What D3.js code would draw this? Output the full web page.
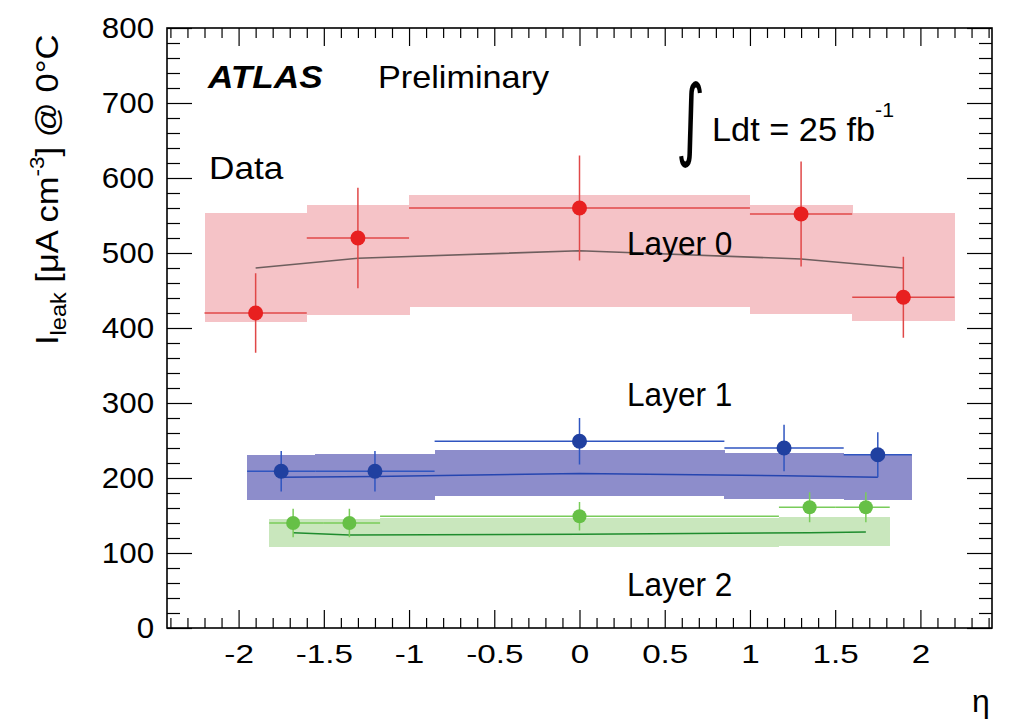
<!DOCTYPE html>
<html>
<head>
<meta charset="UTF-8">
<title>Leakage current vs eta</title>
<script src="https://d3js.org/d3.v7.min.js"></script>
<style>
  body { margin: 0; background: #fff; }
  svg { display: block; font-family: "Liberation Sans", Arial, Helvetica, sans-serif; }
  .axis path { display: none; }
  .axis line { stroke: #000; stroke-width: 1.2; }
</style>
</head>
<body>
<div id="chart"></div>
<script>
// tick values
const xTicks = [-2, -1.5, -1, -0.5, 0, 0.5, 1, 1.5, 2];
const yTicks = [0, 100, 200, 300, 400, 500, 600, 700, 800];

// Layer 0 (red)
const layer0Eta = [-1.9, -1.3, 0, 1.3, 1.9];
const layer0Val = [420, 520, 560, 552, 441];
const layer0Err = [53, 67, 70, 70, 54];
const layer0BinLo = [-2.2, -1.6, -1.0, 1.0, 1.6];
const layer0BinHi = [-1.6, -1.0, 1.0, 1.6, 2.2];
const layer0BandLo = [408, 417, 428, 419, 409];
const layer0BandHi = [553, 564, 577, 564, 553];
const layer0Curve = [480, 493, 503, 492, 480];

// Layer 1 (blue)
const layer1Eta = [-1.75, -1.2, 0, 1.2, 1.75];
const layer1Val = [209, 209, 249, 240, 231];
const layer1Err = [27, 27, 31, 31, 30];
const layer1BinLo = [-1.95, -1.55, -0.85, 0.85, 1.55];
const layer1BinHi = [-1.55, -0.85, 0.85, 1.55, 1.95];
const layer1BandLo = [171, 171, 176, 172, 171];
const layer1BandHi = [231, 232, 237, 233, 231];
const layer1Curve = [201, 202, 206, 203, 201];

// Layer 2 (green)
const layer2Eta = [-1.68, -1.35, 0, 1.35, 1.68];
const layer2Val = [140, 140, 149, 161, 161];
const layer2Err = [19, 19, 19, 20, 20];
const layer2BinLo = [-1.82, -1.5, -1.17, 1.17, 1.5];
const layer2BinHi = [-1.5, -1.17, 1.17, 1.5, 1.82];
const layer2BandLo = [108, 108, 108, 109, 109];
const layer2BandHi = [146, 146, 147, 148, 148];
const layer2Curve = [127, 124, 125, 127, 128];

const width = 1009, height = 724;
const margin = { top: 28, right: 17, bottom: 96, left: 167 };
const iw = width - margin.left - margin.right;
const ih = height - margin.top - margin.bottom;

const svg = d3.select("#chart").append("svg")
  .attr("width", width).attr("height", height);

const x = d3.scaleLinear().domain([-2.42, 2.42]).range([0, iw]);
const y = d3.scaleLinear().domain([0, 800]).range([ih, 0]);

const g = svg.append("g").attr("transform", `translate(${margin.left},${margin.top})`);

const layers = [
  { eta: layer0Eta, val: layer0Val, err: layer0Err, lo: layer0BinLo, hi: layer0BinHi,
    bLo: layer0BandLo, bHi: layer0BandHi, curve: layer0Curve,
    band: "#f5c3c7", point: "#e82020", bar: "#e04848", line: "#6e5e5e", r: 7.5 },
  { eta: layer1Eta, val: layer1Val, err: layer1Err, lo: layer1BinLo, hi: layer1BinHi,
    bLo: layer1BandLo, bHi: layer1BandHi, curve: layer1Curve,
    band: "#8d8dcb", point: "#2040a0", bar: "#2f55c0", line: "#2545b0", r: 7.5 },
  { eta: layer2Eta, val: layer2Val, err: layer2Err, lo: layer2BinLo, hi: layer2BinHi,
    bLo: layer2BandLo, bHi: layer2BandHi, curve: layer2Curve,
    band: "#c9e7bd", point: "#66c046", bar: "#79cc5a", line: "#1e8c2e", r: 7 }
];

// bands (crisp edges so neighbouring bins do not leave seams)
layers.forEach(L => {
  g.append("g").attr("shape-rendering", "crispEdges")
    .selectAll("rect").data(L.lo).join("rect")
    .attr("x", (d, i) => x(d))
    .attr("width", (d, i) => x(L.hi[i]) - x(d) + 0.5)
    .attr("y", (d, i) => y(L.bHi[i]))
    .attr("height", (d, i) => y(L.bLo[i]) - y(L.bHi[i]))
    .attr("fill", L.band);
});

// model curves
layers.forEach(L => {
  const line = d3.line().x((d, i) => x(L.eta[i])).y(d => y(d));
  g.append("path").datum(L.curve)
    .attr("d", line).attr("fill", "none")
    .attr("stroke", L.line).attr("stroke-width", 1.6);
});

// error bars and points
layers.forEach(L => {
  const eg = g.append("g");
  eg.selectAll(".h").data(L.val).join("line")
    .attr("x1", (d, i) => x(L.lo[i])).attr("x2", (d, i) => x(L.hi[i]))
    .attr("y1", d => y(d)).attr("y2", d => y(d))
    .attr("stroke", L.bar).attr("stroke-width", 1.5);
  eg.selectAll(".v").data(L.val).join("line")
    .attr("x1", (d, i) => x(L.eta[i])).attr("x2", (d, i) => x(L.eta[i]))
    .attr("y1", (d, i) => y(d + L.err[i])).attr("y2", (d, i) => y(d - L.err[i]))
    .attr("stroke", L.bar).attr("stroke-width", 1.5);
  eg.selectAll("circle").data(L.val).join("circle")
    .attr("cx", (d, i) => x(L.eta[i])).attr("cy", d => y(d))
    .attr("r", L.r).attr("fill", L.point);
});

// axes with inward ticks (ROOT style)
const fmt = d => String(d);
const xMinor = d3.range(-24, 25).map(d => d / 10).filter(d => Math.abs(d * 2 - Math.round(d * 2)) > 1e-6);
const yMinor = d3.range(0, 801, 20).filter(d => d % 100 !== 0);

const xb = g.append("g").attr("class", "axis").attr("transform", `translate(0,${ih})`)
  .call(d3.axisBottom(x).tickValues(xTicks).tickSize(-18).tickPadding(17).tickFormat(fmt));
xb.selectAll("text").attr("font-size", 25).attr("fill", "#000")
  .attr("transform", "scale(1.33,1)");
g.append("g").attr("class", "axis").attr("transform", `translate(0,${ih})`)
  .call(d3.axisBottom(x).tickValues(xMinor).tickSize(-10).tickFormat(""));
g.append("g").attr("class", "axis")
  .call(d3.axisTop(x).tickValues(xTicks).tickSize(-18).tickFormat(""));
g.append("g").attr("class", "axis")
  .call(d3.axisTop(x).tickValues(xMinor).tickSize(-10).tickFormat(""));

const yl = g.append("g").attr("class", "axis")
  .call(d3.axisLeft(y).tickValues(yTicks).tickSize(-25).tickPadding(12).tickFormat(fmt));
yl.selectAll("text").attr("font-size", 29).attr("fill", "#000")
  .attr("transform", "scale(1.08,1)");
g.append("g").attr("class", "axis")
  .call(d3.axisLeft(y).tickValues(yMinor).tickSize(-13).tickFormat(""));
g.append("g").attr("class", "axis").attr("transform", `translate(${iw},0)`)
  .call(d3.axisRight(y).tickValues(yTicks).tickSize(-25).tickFormat(""));
g.append("g").attr("class", "axis").attr("transform", `translate(${iw},0)`)
  .call(d3.axisRight(y).tickValues(yMinor).tickSize(-13).tickFormat(""));

// frame
g.append("rect").attr("width", iw).attr("height", ih)
  .attr("fill", "none").attr("stroke", "#000").attr("stroke-width", 1.6);

// texts
function label(px, py, sx, size, parts, opts = {}) {
  const t = svg.append("text")
    .attr("transform", `translate(${px},${py}) ${opts.rotate ? "rotate(-90)" : ""} scale(${sx},1)`)
    .attr("font-size", size).attr("fill", "#000")
    .attr("font-weight", opts.weight || "normal")
    .attr("font-style", opts.style || "normal");
  parts.forEach(p => {
    t.append("tspan").text(p.t)
      .attr("font-size", p.s ? size * p.s : null)
      .attr("dy", p.dy != null ? p.dy : null);
  });
  return t;
}

label(208, 88, 1.1, 32, [{ t: "ATLAS" }], { weight: "bold", style: "italic" });
label(378, 88, 1.07, 32, [{ t: "Preliminary" }]);
label(209, 179, 1.1, 32, [{ t: "Data" }]);
label(712, 141, 1.04, 33, [{ t: "Ldt = 25 fb" }, { t: "-1", s: 0.62, dy: -24 }]);
svg.append("text").attr("transform", "translate(676,149) scale(0.9,1.45)")
  .attr("font-family", "DejaVu Sans").attr("font-size", 62).text("\u222B");

label(627, 255, 0.93, 34, [{ t: "Layer 0" }]);
label(627, 406, 0.93, 34, [{ t: "Layer 1" }]);
label(627, 596, 0.93, 34, [{ t: "Layer 2" }]);

label(972, 712, 1, 32, [{ t: "\u03B7" }]);

label(58, 345, 1.08, 32, [
  { t: "I" },
  { t: "leak", s: 0.68, dy: 8 },
  { t: " [\u03BCA cm", dy: -8 },
  { t: "-3", s: 0.65, dy: -14 },
  { t: "] @ 0\u00B0C", dy: 14 }
], { rotate: true });
</script>
</body>
</html>
